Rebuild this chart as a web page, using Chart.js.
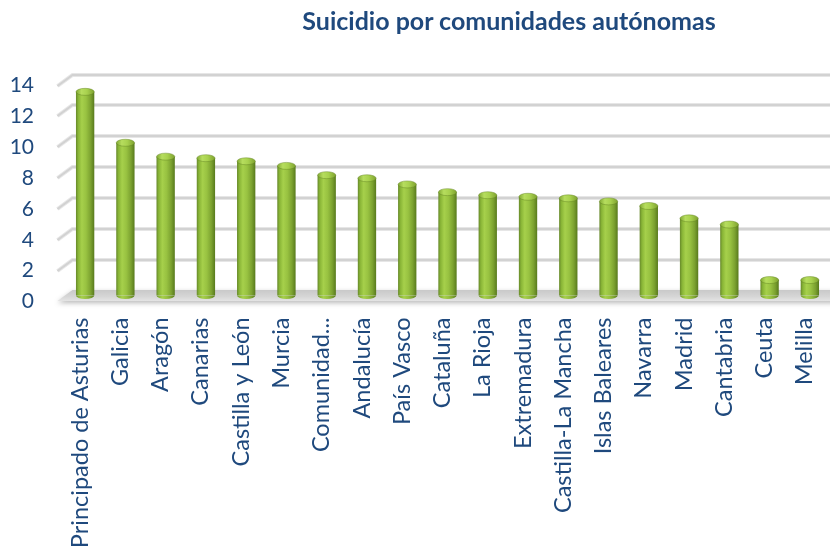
<!DOCTYPE html>
<html lang="es">
<head>
<meta charset="utf-8">
<title>Suicidio por comunidades autónomas</title>
<script src="https://cdn.jsdelivr.net/npm/chart.js@4.4.1/dist/chart.umd.min.js"></script>
<style>
  html, body { margin: 0; padding: 0; background: #ffffff; overflow: hidden; }
  #wrap { position: relative; width: 830px; height: 546px; }
  #title {
    position: absolute; left: 509px; top: 5px; transform: translateX(-50%);
    margin: 0; white-space: nowrap; font: bold 25px Lato, "Open Sans", sans-serif;
    line-height: 30px; color: #1f497d; z-index: 2;
  }
  #chart { position: absolute; left: 0; top: 0; }
</style>
</head>
<body>
<div id="wrap">
  <h1 id="title">Suicidio por comunidades autónomas</h1>
  <canvas id="chart" width="830" height="546"></canvas>
</div>
<script>
// Comunidades autónomas, ordered by rate
const categories = [
  'Principado de Asturias', 'Galicia', 'Aragón', 'Canarias', 'Castilla y León',
  'Murcia', 'Comunidad...', 'Andalucía', 'País Vasco', 'Cataluña', 'La Rioja',
  'Extremadura', 'Castilla-La Mancha', 'Islas Baleares', 'Navarra', 'Madrid',
  'Cantabria', 'Ceuta', 'Melilla'
];
// Suicide rate per community
const rates = [13.2, 9.9, 9.0, 8.9, 8.7, 8.4, 7.8, 7.6, 7.2, 6.7, 6.5, 6.4, 6.3, 6.1, 5.8, 5.0, 4.6, 1.0, 1.0];
// Value axis range and step
const yMin = 0;
const yMax = 14;
const yStep = 2;

const TEXT_COLOR = '#1f497d';
const BAR_PCT = 0.455;      // bar width as share of a category slot
const DX = 7.5;             // half of the depth shift, horizontal
const DY = 5.5;             // half of the depth shift, vertical
const CAP_RY = 3.5;         // vertical radius of the column caps

const bodyStops = [
  [0, '#66882a'], [0.12, '#88b436'], [0.32, '#a6d04b'],
  [0.55, '#98c241'], [0.8, '#7ca230'], [1, '#587a1d']
];
const capStops = [
  [0, '#80a832'], [0.3, '#b6dd5e'], [0.6, '#a8d14e'], [1, '#7ea12f']
];

function hGradient(ctx, x0, w, stops) {
  const g = ctx.createLinearGradient(x0, 0, x0 + w, 0);
  stops.forEach(([o, c]) => g.addColorStop(o, c));
  return g;
}

function bodyFill(c) {
  const chart = c.chart;
  const xs = chart.scales && chart.scales.x;
  if (!xs || c.dataIndex == null || !chart.chartArea) return '#8db53c';
  const cx = xs.getPixelForValue(c.dataIndex);
  const w = (xs.width / categories.length) * BAR_PCT;
  return hGradient(chart.ctx, cx - w / 2, w, bodyStops);
}

// Back wall gridlines with their slanted left ends, and the floor
const wall3d = {
  id: 'wall3d',
  beforeDatasetsDraw(chart) {
    const { ctx, chartArea: a, scales: { y } } = chart;
    ctx.save();
    ctx.lineCap = 'butt';
    y.ticks.forEach(t => {
      if (t.value === yMin) return;
      const py = Math.round(y.getPixelForValue(t.value)) + 0.5;
      ctx.beginPath();
      ctx.moveTo(a.left - DX, py + DY);
      ctx.lineTo(a.left + DX, py - DY);
      ctx.lineTo(a.right + 2, py - DY);
      ctx.strokeStyle = 'rgba(200,200,200,0.45)';
      ctx.lineWidth = 4;
      ctx.stroke();
      ctx.strokeStyle = '#d2d2d2';
      ctx.lineWidth = 2;
      ctx.stroke();
    });

    const y0 = y.getPixelForValue(yMin);
    ctx.beginPath();
    ctx.moveTo(a.left + DX, y0 - DY);
    ctx.lineTo(a.right + 2 * DX + 10, y0 - DY);
    ctx.lineTo(a.right + 10, y0 + DY);
    ctx.lineTo(a.left - DX, y0 + DY);
    ctx.closePath();
    ctx.shadowColor = 'rgba(0,0,0,0.28)';
    ctx.shadowBlur = 5;
    ctx.shadowOffsetY = 2;
    const fg = ctx.createLinearGradient(0, y0 - DY, 0, y0 + DY);
    fg.addColorStop(0, '#c9c9c9');
    fg.addColorStop(0.6, '#d6d6d6');
    fg.addColorStop(1, '#e4e4e4');
    ctx.fillStyle = fg;
    ctx.fill();
    ctx.restore();
  },
  afterDatasetsDraw(chart) {
    const { ctx } = chart;
    const meta = chart.getDatasetMeta(0);
    ctx.save();
    meta.data.forEach(bar => {
      const { x, y, base, width } = bar.getProps(['x', 'y', 'base', 'width'], true);
      const rx = width / 2;
      // rounded foot of the column
      ctx.beginPath();
      ctx.ellipse(x, base, rx, CAP_RY, 0, 0, Math.PI);
      ctx.closePath();
      ctx.fillStyle = hGradient(ctx, x - rx, width, bodyStops);
      ctx.fill();
      // top cap
      ctx.beginPath();
      ctx.ellipse(x, y, rx, CAP_RY, 0, 0, Math.PI * 2);
      ctx.fillStyle = hGradient(ctx, x - rx, width, capStops);
      ctx.fill();
      ctx.strokeStyle = 'rgba(96,128,32,0.55)';
      ctx.lineWidth = 0.8;
      ctx.stroke();
    });
    ctx.restore();
  }
};

new Chart(document.getElementById('chart'), {
  type: 'bar',
  data: {
    labels: categories,
    datasets: [{
      label: 'Suicidio',
      data: rates,
      backgroundColor: bodyFill,
      borderWidth: 0,
      barPercentage: BAR_PCT,
      categoryPercentage: 1
    }]
  },
  options: {
    responsive: false,
    animation: false,
    layout: { padding: { top: 79.5, right: 0, bottom: 0, left: 0 } },
    plugins: {
      legend: { display: false },
      title: { display: false },
      tooltip: { enabled: false }
    },
    scales: {
      x: {
        grid: { display: false, drawTicks: false },
        border: { display: false },
        ticks: {
          autoSkip: false,
          minRotation: 90,
          maxRotation: 90,
          padding: 22,
          labelOffset: -5,
          color: TEXT_COLOR,
          font: { family: 'Lato', size: 23.5 }
        },
        afterFit(scale) {
          scale.height = 250.5;
          scale.paddingLeft = 0;
          scale.paddingRight = 0;
        }
      },
      y: {
        min: yMin,
        max: yMax,
        grid: { display: false, drawTicks: false },
        border: { display: false },
        ticks: {
          stepSize: yStep,
          padding: 31,
          labelOffset: 6,
          color: TEXT_COLOR,
          font: { family: 'Lato', size: 21 }
        },
        afterFit(scale) { scale.width = 65; }
      }
    }
  },
  plugins: [wall3d]
});
</script>
</body>
</html>
